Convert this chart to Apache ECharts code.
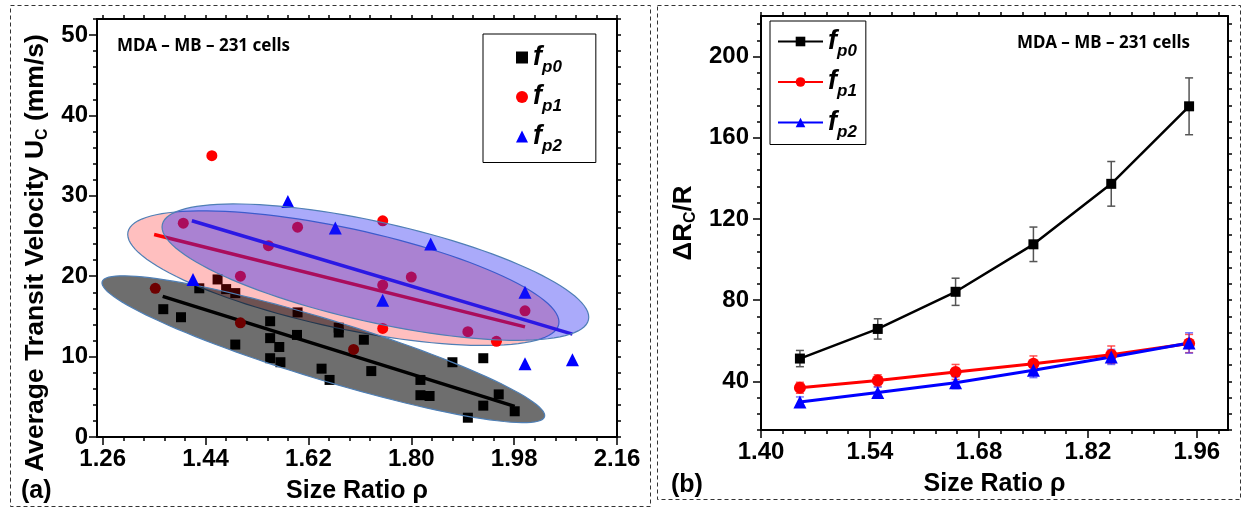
<!DOCTYPE html>
<html>
<head>
<meta charset="utf-8">
<script src="https://cdn.jsdelivr.net/npm/echarts@6/dist/echarts.min.js"></script>
<style>
  html, body { margin: 0; padding: 0; background: #fff; }
  #chart { width: 1246px; height: 510px; }
</style>
</head>
<body>
<div id="chart"></div>
<script>
// ---- panel (a): transit velocity vs size ratio ----
var fp0Points = [[1.366, 15.9], [1.397, 14.9], [1.429, 18.5], [1.461, 19.6], [1.476, 18.4], [1.492, 17.9],
  [1.492, 11.5], [1.553, 14.4], [1.553, 12.3], [1.569, 11.2], [1.553, 9.8], [1.571, 9.3], [1.600, 12.7],
  [1.601, 15.5], [1.643, 8.5], [1.657, 7.1], [1.673, 13.6], [1.673, 13.0], [1.717, 12.1], [1.730, 8.2],
  [1.816, 7.1], [1.816, 5.2], [1.832, 5.1], [1.872, 9.3], [1.926, 9.8], [1.926, 3.9], [1.899, 2.4],
  [1.953, 5.3], [1.981, 3.2]];
var fp1Points = [[1.352, 18.5], [1.401, 26.6], [1.451, 35.0], [1.501, 20.0], [1.501, 14.2], [1.550, 23.8],
  [1.601, 26.1], [1.699, 10.9], [1.750, 26.9], [1.750, 18.9], [1.750, 13.5], [1.800, 19.9], [1.899, 13.1],
  [1.949, 11.9], [1.999, 15.7]];
var fp2Points = [[1.418, 19.6], [1.584, 29.3], [1.667, 26.0], [1.750, 17.0], [1.834, 24.0], [1.999, 18.0],
  [1.999, 9.1], [2.082, 9.6]];

// linear fits (end points)
var fp0Fit = [[1.365, 17.5], [1.981, 3.8]];
var fp1Fit = [[1.350, 25.2], [1.999, 13.7]];
var fp2Fit = [[1.416, 26.9], [2.082, 12.8]];

// ellipses: center, end of major axis, end of minor axis (data units)
var fp0Ellipse = [1.6461, 10.92, 2.0332, 2.52, 1.6615, 14.50];
var fp1Ellipse = [1.6811, 19.76, 2.0580, 14.01, 1.6992, 25.85];
var fp2Ellipse = [1.7372, 20.51, 2.1100, 14.56, 1.7577, 26.56];

var ticksA = [1.26, 1.44, 1.62, 1.80, 1.98, 2.16];
var ticksU = [0, 10, 20, 30, 40, 50];

// ---- panel (b): ΔRc/R vs size ratio ----
var rhoB = [1.45, 1.55, 1.65, 1.75, 1.85, 1.95];
var dR0 = [51.2, 65.8, 84.1, 107.5, 137.3, 175.5];
var dR1 = [36.8, 40.4, 44.6, 48.7, 53.1, 58.6];
var dR2 = [29.8, 34.5, 39.3, 45.4, 52.0, 58.9];
var err0 = [4.0, 5.0, 6.7, 8.5, 11.0, 14.0];
var err1 = [2.7, 2.8, 3.7, 3.8, 4.3, 4.5];
var err2 = [2.5, 2.6, 2.9, 3.6, 3.7, 5.0];

var ticksB = [1.40, 1.54, 1.68, 1.82, 1.96];
var ticksR = [40, 80, 120, 160, 200];

var subNames = { a0: 'p0', a1: 'p1', a2: 'p2', b0: 'p0', b1: 'p1', b2: 'p2' };

function steps(start, step, end) {
  var out = [];
  for (var i = 0; start + i * step <= end + 1e-9; i++) out.push(+(start + i * step).toFixed(4));
  return out;
}
var minorA = steps(1.26, 0.036, 2.16);
var minorU = steps(0, 2, 52);
var minorB = steps(1.40, 0.028, 2.0);
var minorR = steps(16, 8, 220);

var narrow = "'Liberation Sans Narrow', 'Liberation Sans', Arial, sans-serif";
var sans = "'Liberation Sans', Arial, sans-serif";
var headFont = "'Noto Sans', 'Open Sans', sans-serif";

var chart = echarts.init(document.getElementById('chart'));

function axis(grid, pos, min, max, tickValues, tickLen, showLine) {
  return {
    type: 'value', gridIndex: grid, position: pos, min: min, max: max,
    axisLine: { show: showLine, onZero: false, lineStyle: { color: '#000', width: 2 } },
    axisTick: { show: true, customValues: tickValues, length: tickLen, lineStyle: { color: '#000', width: 1.5 } },
    axisLabel: { show: false },
    splitLine: { show: false }
  };
}

function labelled(ax, values, fmt, margin) {
  ax.axisLabel = {
    show: true, customValues: values, formatter: fmt, margin: margin,
    fontFamily: narrow, fontWeight: 'bold', fontSize: 24, color: '#000'
  };
  return ax;
}

function nameStyle(size, pad) {
  return {
    fontFamily: sans, fontWeight: 'bold', fontSize: size, color: '#000', lineHeight: 30, padding: pad,
    rich: { s: { fontFamily: sans, fontWeight: 'bold', fontSize: 16, color: '#000', lineHeight: 12, verticalAlign: 'bottom' } }
  };
}

// x axes
var xA = labelled(axis(0, 'bottom', 1.25, 2.16, minorA, 4, true), ticksA, function (v) { return v.toFixed(2); }, 10);
xA.name = 'Size Ratio ρ';
xA.nameLocation = 'middle';
xA.nameGap = 38;
xA.nameTextStyle = nameStyle(25, 0);
var xB = labelled(axis(1, 'bottom', 1.40, 2.0, minorB, 4, true), ticksB, function (v) { return v.toFixed(2); }, 10);
xB.name = 'Size Ratio ρ';
xB.nameLocation = 'middle';
xB.nameGap = 36;
xB.nameTextStyle = nameStyle(25, 0);

// y axes
var yA = labelled(axis(0, 'left', 0, 52, minorU, 4, true), ticksU, function (v) { return String(v); }, 9);
yA.name = 'Average Transit Velocity U{s|C} (mm/s)';
yA.nameLocation = 'middle';
yA.nameGap = 46;
yA.nameTextStyle = nameStyle(26.5, [0, 50, 0, 0]);
var yB = labelled(axis(1, 'left', 16, 220, minorR, 4, true), ticksR, function (v) { return String(v); }, 12);
yB.name = 'ΔR{s|C}/R';
yB.nameLocation = 'middle';
yB.nameGap = 62;
yB.nameTextStyle = nameStyle(26, 0);

var option = {
  animation: false,
  backgroundColor: '#fff',
  grid: [
    { left: 97, right: 629, top: 19, bottom: 73, outerBoundsMode: 'none', containLabel: false },
    { left: 761, right: 18, top: 16, bottom: 80, outerBoundsMode: 'none', containLabel: false }
  ],
  xAxis: [
    xA,
    axis(0, 'bottom', 1.25, 2.16, ticksA, 8, false),
    axis(0, 'top', 1.25, 2.16, minorA, 4, true),
    xB,
    axis(1, 'bottom', 1.40, 2.0, ticksB, 8, false),
    axis(1, 'top', 1.40, 2.0, minorB, 4, true)
  ],
  yAxis: [
    yA,
    axis(0, 'left', 0, 52, ticksU, 8, false),
    axis(0, 'right', 0, 52, minorU, 4, true),
    yB,
    axis(1, 'left', 16, 220, ticksR, 8, false),
    axis(1, 'right', 16, 220, minorR, 4, true)
  ],
  title: [
    { text: 'MDA – MB – 231 cells', left: 112, top: 33, textStyle: { fontFamily: headFont, fontWeight: 'bold', fontSize: 17, color: '#000' } },
    { text: 'MDA – MB – 231 cells', left: 1012, top: 30, textStyle: { fontFamily: headFont, fontWeight: 'bold', fontSize: 17, color: '#000' } },
    { text: '(a)', left: 16, top: 474, textStyle: { fontFamily: sans, fontWeight: 'bold', fontSize: 25, color: '#000' } },
    { text: '(b)', left: 666, top: 468, textStyle: { fontFamily: sans, fontWeight: 'bold', fontSize: 25, color: '#000' } }
  ],
  legend: [
    {
      data: ['a0', 'a1', 'a2'], orient: 'vertical', left: 483, top: 34,
      padding: [10, 34, 8, 33], itemGap: 8, itemWidth: 12, itemHeight: 12, itemTextGap: 18,
      borderColor: '#000', borderWidth: 1, backgroundColor: '#fff',
      formatter: function (n) { return '{f|f}{s|' + subNames[n] + '}'; },
      textStyle: { rich: legendRich() }
    },
    {
      data: ['b0', 'b1', 'b2'], orient: 'vertical', left: 770, top: 21,
      padding: [7, 9, 4, 7], itemGap: 9, itemWidth: 45, itemHeight: 12, itemTextGap: 4,
      borderColor: '#000', borderWidth: 1, backgroundColor: '#fff',
      formatter: function (n) { return '{f|f}{s|' + subNames[n] + '}'; },
      textStyle: { rich: legendRich() }
    }
  ],
  graphic: [
    { type: 'rect', silent: true, z: -1, shape: { x: 10.5, y: 5.5, width: 640, height: 501 },
      style: { fill: 'none', stroke: '#333', lineWidth: 1, lineDash: [4, 3] } },
    { type: 'rect', silent: true, z: -1, shape: { x: 657.5, y: 5.5, width: 583, height: 494 },
      style: { fill: 'none', stroke: '#333', lineWidth: 1, lineDash: [4, 3] } }
  ],
  series: [
    // panel (a), z gives the stacking of marks and shaded ellipses
    scatterA('a0', fp0Points, 'rect', 10, '#000', 1),
    fitLine('fit0', fp0Fit, '#000', 1),
    ellipseSeries('e1', fp1Ellipse, 'rgba(255,0,0,0.25)', 2),
    scatterA('a1', fp1Points, 'circle', 11, '#ff0000', 3),
    fitLine('fit1', fp1Fit, '#ff0000', 3),
    ellipseSeries('e0', fp0Ellipse, 'rgba(0,0,0,0.57)', 4),
    scatterA('a2', fp2Points, 'triangle', 13, '#0000ff', 5),
    fitLine('fit2', fp2Fit, '#3214dc', 5),
    ellipseSeries('e2', fp2Ellipse, 'rgba(34,34,242,0.385)', 6),
    // panel (b)
    errorSeries('err0', dR0, err0, '#555'),
    errorSeries('err1', dR1, err1, 'rgba(255,40,40,0.8)'),
    errorSeries('err2', dR2, err2, 'rgba(60,60,255,0.7)'),
    lineB('b0', dR0, '#000', 'rect', 10, 2.5),
    lineB('b1', dR1, '#ff0000', 'circle', 12, 3),
    lineB('b2', dR2, '#0000ff', 'triangle', 13, 3)
  ]
};

function legendRich() {
  return {
    f: { fontFamily: sans, fontSize: 27, fontWeight: 'bold', fontStyle: 'italic', color: '#000', lineHeight: 36 },
    s: { fontFamily: sans, fontSize: 17, fontWeight: 'bold', fontStyle: 'italic', color: '#000', lineHeight: 14, verticalAlign: 'bottom' }
  };
}

function scatterA(name, pts, symbol, size, color, z) {
  return { name: name, type: 'scatter', xAxisIndex: 0, yAxisIndex: 0, data: pts, z: z,
    symbol: symbol, symbolSize: size, itemStyle: { color: color, opacity: 1 } };
}

function fitLine(name, pts, color, z) {
  return { name: name, type: 'line', xAxisIndex: 0, yAxisIndex: 0, data: pts, showSymbol: false, z: z,
    lineStyle: { color: color, width: 3.5 }, itemStyle: { color: color } };
}

function ellipseSeries(name, e, fill, z) {
  return {
    name: name, type: 'custom', xAxisIndex: 0, yAxisIndex: 0, data: [e], z: z,
    encode: { x: [0, 2, 4], y: [1, 3, 5] },
    renderItem: function (params, api) {
      var cx = api.value(0), cy = api.value(1);
      var ax = api.value(2) - cx, ay = api.value(3) - cy;
      var bx = api.value(4) - cx, by = api.value(5) - cy;
      var pts = [];
      for (var k = 0; k < 120; k++) {
        var t = k / 120 * 2 * Math.PI;
        pts.push(api.coord([cx + Math.cos(t) * ax + Math.sin(t) * bx, cy + Math.cos(t) * ay + Math.sin(t) * by]));
      }
      return { type: 'polygon', shape: { points: pts }, style: { fill: fill, stroke: '#4f7fb5', lineWidth: 1.2 } };
    }
  };
}

function errorSeries(name, vals, errs, color) {
  return {
    name: name, type: 'custom', xAxisIndex: 3, yAxisIndex: 3,
    data: rhoB.map(function (r, i) { return [r, vals[i] - errs[i], vals[i] + errs[i]]; }),
    encode: { x: 0, y: [1, 2] },
    renderItem: function (params, api) {
      var top = api.coord([api.value(0), api.value(2)]);
      var bot = api.coord([api.value(0), api.value(1)]);
      var w = 4;
      var st = { stroke: color, lineWidth: 1.5 };
      return { type: 'group', children: [
        { type: 'line', shape: { x1: top[0], y1: top[1], x2: bot[0], y2: bot[1] }, style: st },
        { type: 'line', shape: { x1: top[0] - w, y1: top[1], x2: top[0] + w, y2: top[1] }, style: st },
        { type: 'line', shape: { x1: bot[0] - w, y1: bot[1], x2: bot[0] + w, y2: bot[1] }, style: st }
      ] };
    }
  };
}

function lineB(name, vals, color, symbol, size, width) {
  return {
    name: name, type: 'line', xAxisIndex: 3, yAxisIndex: 3, z: 10,
    data: rhoB.map(function (r, i) { return [r, vals[i]]; }),
    symbol: symbol, symbolSize: size, showAllSymbol: true,
    lineStyle: { color: color, width: width }, itemStyle: { color: color, opacity: 1 }
  };
}

chart.setOption(option);
</script>
</body>
</html>
